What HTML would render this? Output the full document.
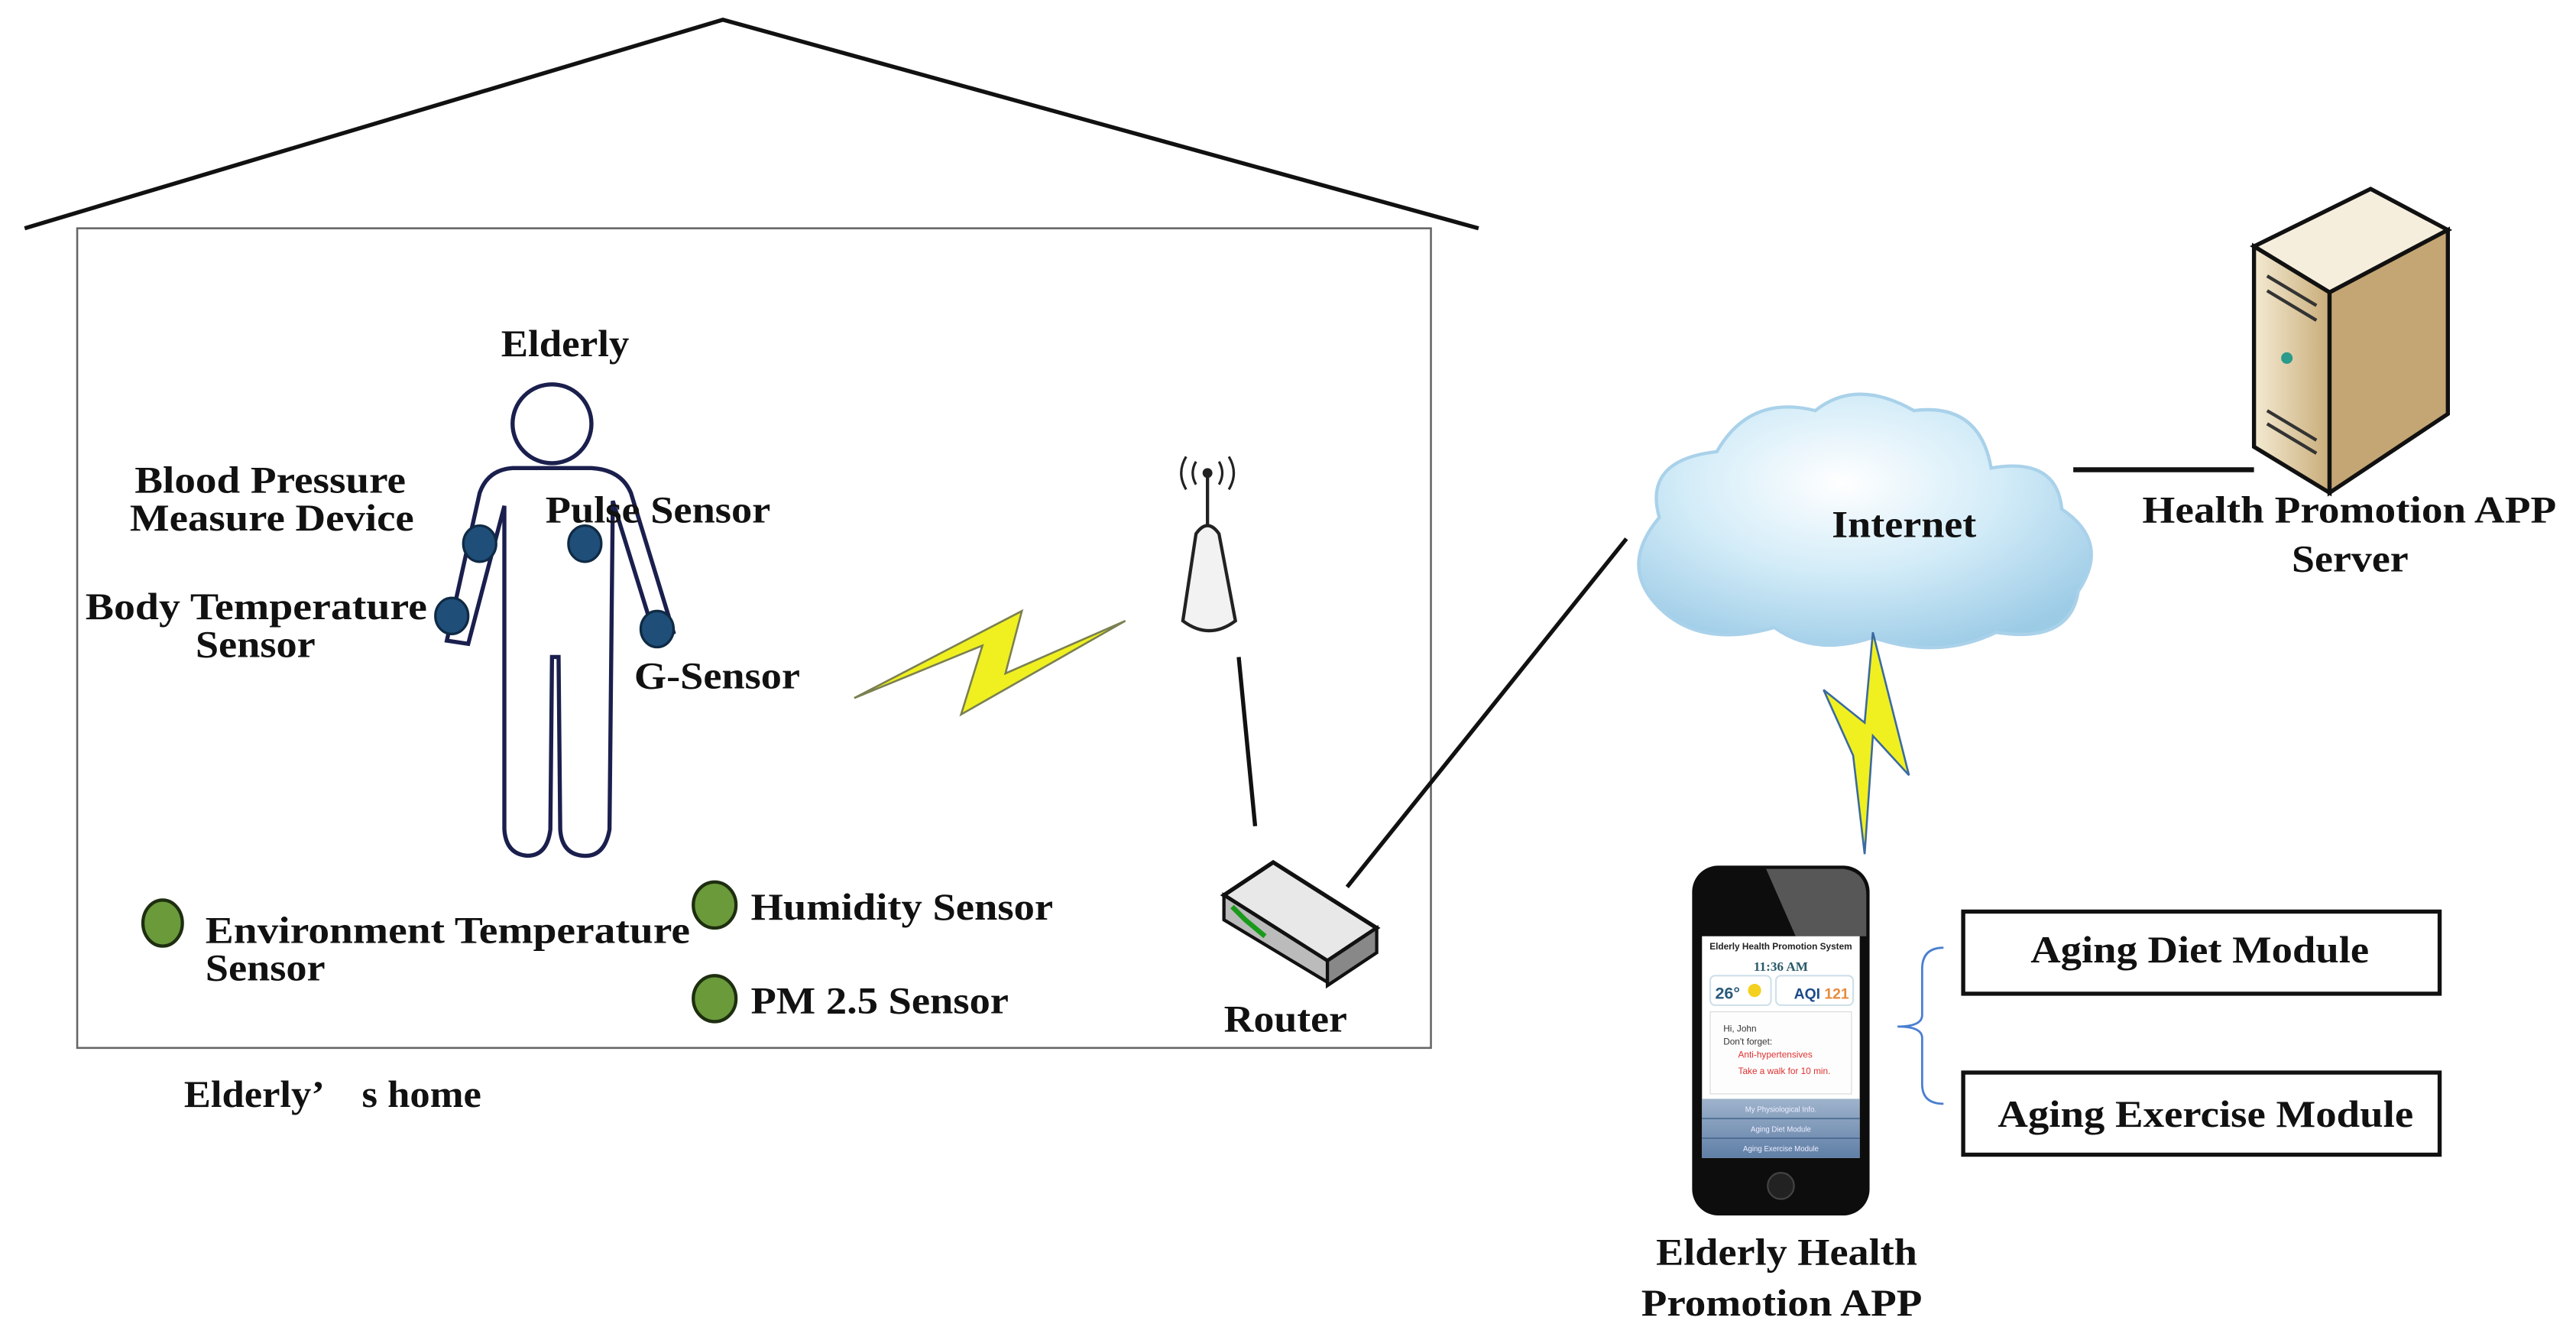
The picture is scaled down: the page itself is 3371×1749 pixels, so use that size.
<!DOCTYPE html>
<html><head><meta charset="utf-8"><style>html,body{margin:0;padding:0;background:#fff}svg{display:block}</style></head><body>
<svg width="3371" height="1749" viewBox="0 0 1568 814" preserveAspectRatio="none" xmlns="http://www.w3.org/2000/svg" font-family="Liberation Serif, serif" font-weight="bold" font-size="23">
<defs>
<radialGradient id="cl" cx="0.45" cy="0.35" r="0.7"><stop offset="0" stop-color="#ffffff"/><stop offset="0.5" stop-color="#d3ecf8"/><stop offset="1" stop-color="#9ccbe6"/></radialGradient>
<linearGradient id="sv" x1="0" x2="1"><stop offset="0" stop-color="#f4ead2"/><stop offset="1" stop-color="#c9ad7a"/></linearGradient>
<linearGradient id="bt" x1="0" y1="0" x2="0" y2="1"><stop offset="0" stop-color="#9fb3cc"/><stop offset="1" stop-color="#5f7fa6"/></linearGradient>
</defs>
<polyline points="15,139 440,12 900,139" fill="none" stroke="#111" stroke-width="2.5"/>
<rect x="47" y="139" width="824" height="499" fill="none" stroke="#666" stroke-width="1.2"/>
<!-- person -->
<circle cx="336" cy="258" r="24" fill="#fff" stroke="#1a1f4d" stroke-width="2.5"/>
<path d="M312,285 L360,285 Q378,286 384,300 L410,385 L400,392 L373,305 L371,505 Q368,522 355,521 Q342,520 341,505 L340,400 L336,400 L335,505 Q333,521 321,521 Q308,520 307,505 L307,308 L285,392 L272,390 L292,300 Q297,286 312,285 Z" fill="#fff" stroke="#1a1f4d" stroke-width="2.5"/>
<g fill="#1f4e79" stroke="#0f2a44" stroke-width="1.5">
<ellipse cx="292" cy="331" rx="10" ry="11"/><ellipse cx="356" cy="331" rx="10" ry="11"/>
<ellipse cx="275" cy="375" rx="10" ry="11"/><ellipse cx="400" cy="383" rx="10" ry="11"/>
</g>
<g fill="#6a9a3a" stroke="#1e2e10" stroke-width="2">
<ellipse cx="99" cy="562" rx="12" ry="14"/><ellipse cx="435" cy="551" rx="13" ry="14"/><ellipse cx="435" cy="608" rx="13" ry="14"/>
</g>
<polygon points="520,425 598,393 585,435 685,378 612,410 622,372" fill="#f0f020" stroke="#7a8050" stroke-width="1.2"/>
<!-- antenna -->
<path d="M722,278 Q716,288 722,298 M728,281 Q724,288 728,295 M748,278 Q754,288 748,298 M742,281 Q746,288 742,295" fill="none" stroke="#222" stroke-width="1.5"/>
<circle cx="735" cy="288" r="3" fill="#222"/>
<line x1="735" y1="288" x2="735" y2="325" stroke="#222" stroke-width="2"/>
<path d="M728,325 Q735,315 742,325 L752,378 Q736,390 720,378 Z" fill="#f2f2f2" stroke="#222" stroke-width="2"/>
<line x1="754" y1="400" x2="764" y2="503" stroke="#111" stroke-width="2.5"/>
<!-- router -->
<polygon points="745,545 775,525 838,565 808,585" fill="#e8e8e8" stroke="#111" stroke-width="2.5"/>
<polygon points="745,545 808,585 808,598 745,560" fill="#bbb" stroke="#111" stroke-width="2"/>
<polygon points="808,585 838,565 838,580 808,600" fill="#888" stroke="#111" stroke-width="2"/>
<path d="M750,552 L758,560 L770,570" stroke="#1a9a1a" stroke-width="3" fill="none"/>
<line x1="820" y1="540" x2="990" y2="328" stroke="#111" stroke-width="2.5"/>
<!-- cloud -->
<path d="M1010,370 Q985,345 1010,315 Q1000,280 1045,275 Q1065,240 1105,250 Q1130,230 1165,250 Q1205,245 1212,285 Q1252,278 1255,310 Q1285,330 1265,360 Q1260,392 1215,385 Q1180,402 1140,388 Q1105,400 1080,382 Q1035,395 1010,370 Z" fill="url(#cl)" stroke="#a9d1ea" stroke-width="2"/>
<line x1="1262" y1="286" x2="1372" y2="286" stroke="#111" stroke-width="3"/>
<!-- server -->
<polygon points="1372,150 1443,115 1490,140 1418,178" fill="#f6eedd" stroke="#111" stroke-width="2.5"/>
<polygon points="1372,150 1418,178 1418,300 1372,272" fill="url(#sv)" stroke="#111" stroke-width="2.5"/>
<polygon points="1418,178 1490,140 1490,252 1418,300" fill="#c4a674" stroke="#111" stroke-width="2.5"/>
<path d="M1380,168 L1410,186 M1380,177 L1410,195 M1380,250 L1410,268 M1380,258 L1410,276" stroke="#333" stroke-width="2"/>
<circle cx="1392" cy="218" r="3.5" fill="#2a9a8a"/>
<polygon points="1140,385 1162,472 1140,448 1135,520 1128,460 1110,420 1135,440" fill="#f0f020" stroke="#3a6aa0" stroke-width="1.2"/>
<!-- phone -->
<rect x="1030" y="527" width="108" height="213" rx="16" fill="#0d0d0d"/>
<path d="M1075,529 L1122,529 Q1136,531 1136,545 L1136,570 L1093,570 Z" fill="#777" opacity="0.7"/>
<rect x="1036" y="570" width="96" height="135" fill="#fff"/>
<text x="1084" y="578" text-anchor="middle" font-family="Liberation Sans, sans-serif" font-size="5.5" fill="#222">Elderly Health Promotion System</text>
<text x="1084" y="591" text-anchor="middle" font-size="8" fill="#2a5a6a">11:36 AM</text>
<rect x="1041" y="594" width="37" height="18" rx="3" fill="#fff" stroke="#cfe0ea"/>
<rect x="1081" y="594" width="47" height="18" rx="3" fill="#fff" stroke="#cfe0ea"/>
<text x="1044" y="608" font-family="Liberation Sans, sans-serif" font-size="10" fill="#2a5a7a">26°</text>
<circle cx="1068" cy="603" r="4" fill="#f4d020"/>
<text x="1092" y="608" font-family="Liberation Sans, sans-serif" font-size="9" fill="#1a4a8a">AQI <tspan fill="#e88a3a">121</tspan></text>
<rect x="1041" y="616" width="86" height="50" fill="#fdfdfd" stroke="#ddd" stroke-width="0.6"/>
<g font-family="Liberation Sans, sans-serif" font-weight="normal" font-size="5.5">
<text x="1049" y="628" fill="#333">Hi, John</text><text x="1049" y="636" fill="#333">Don't forget:</text>
<text x="1058" y="644" fill="#e03030">Anti-hypertensives</text><text x="1058" y="654" fill="#e03030">Take a walk for 10 min.</text>
</g>
<rect x="1036" y="669" width="96" height="36" fill="url(#bt)"/>
<path d="M1036,681 H1132 M1036,693 H1132" stroke="#4a6a90" stroke-width="0.8"/>
<g font-family="Liberation Sans, sans-serif" font-weight="normal" font-size="4.5" fill="#eef" text-anchor="middle">
<text x="1084" y="677">My Physiological Info.</text><text x="1084" y="689">Aging Diet Module</text><text x="1084" y="701">Aging Exercise Module</text></g>
<circle cx="1084" cy="722" r="8" fill="#222" stroke="#444"/>
<path d="M1183,577 Q1170,577 1170,590 L1170,618 Q1170,625 1155,625 Q1170,625 1170,632 L1170,660 Q1170,672 1183,672" fill="none" stroke="#4a7fd0" stroke-width="1.3"/>
<rect x="1195" y="555" width="290" height="50" fill="#fff" stroke="#111" stroke-width="2.5"/>
<rect x="1195" y="653" width="290" height="50" fill="#fff" stroke="#111" stroke-width="2.5"/>
<!-- labels -->
<g fill="#111" lengthAdjust="spacingAndGlyphs">
<text x="305" y="217" textLength="78" lengthAdjust="spacingAndGlyphs">Elderly</text>
<text x="82" y="300" textLength="165" lengthAdjust="spacingAndGlyphs">Blood Pressure</text>
<text x="79" y="323" textLength="173" lengthAdjust="spacingAndGlyphs">Measure Device</text>
<text x="332" y="318" textLength="137" lengthAdjust="spacingAndGlyphs">Pulse Sensor</text>
<text x="52" y="377" textLength="208" lengthAdjust="spacingAndGlyphs">Body Temperature</text>
<text x="119" y="400" textLength="73" lengthAdjust="spacingAndGlyphs">Sensor</text>
<text x="386" y="419" textLength="101" lengthAdjust="spacingAndGlyphs">G-Sensor</text>
<text x="125" y="574" textLength="295" lengthAdjust="spacingAndGlyphs">Environment Temperature</text>
<text x="125" y="597" textLength="73" lengthAdjust="spacingAndGlyphs">Sensor</text>
<text x="457" y="560" textLength="184" lengthAdjust="spacingAndGlyphs">Humidity Sensor</text>
<text x="457" y="617" textLength="157" lengthAdjust="spacingAndGlyphs">PM 2.5 Sensor</text>
<text x="745" y="628" textLength="75" lengthAdjust="spacingAndGlyphs">Router</text>
<text x="112" y="674" textLength="181" lengthAdjust="spacingAndGlyphs">Elderly’　s home</text>
<text x="1115" y="327" textLength="88" lengthAdjust="spacingAndGlyphs">Internet</text>
<text x="1304" y="318" textLength="252" lengthAdjust="spacingAndGlyphs">Health Promotion APP</text>
<text x="1395" y="348" textLength="71" lengthAdjust="spacingAndGlyphs">Server</text>
<text x="1008" y="770" textLength="159" lengthAdjust="spacingAndGlyphs">Elderly Health</text>
<text x="999" y="801" textLength="171" lengthAdjust="spacingAndGlyphs">Promotion APP</text>
<text x="1236" y="586" textLength="206" lengthAdjust="spacingAndGlyphs">Aging Diet Module</text>
<text x="1216" y="686" textLength="253" lengthAdjust="spacingAndGlyphs">Aging Exercise Module</text>
</g>
</svg>
</body></html>
